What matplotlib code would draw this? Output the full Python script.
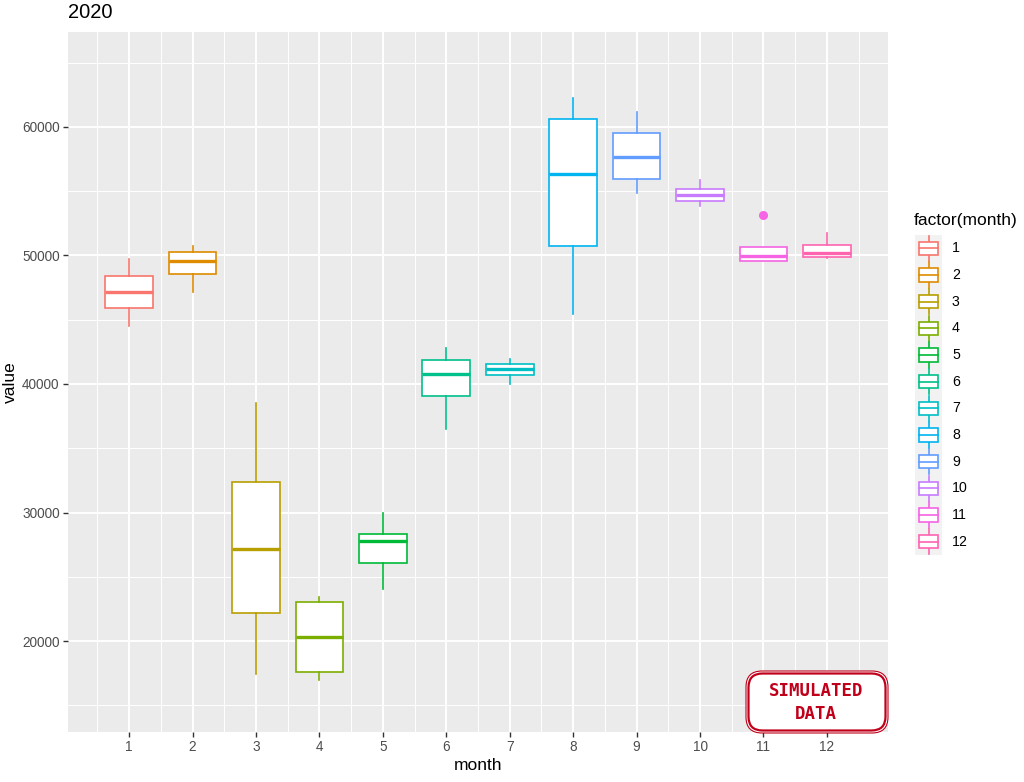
import matplotlib
matplotlib.use("Agg")
import matplotlib.pyplot as plt
from matplotlib.patches import Rectangle, FancyBboxPatch
from matplotlib.lines import Line2D

plt.rcParams['font.family'] = ['Liberation Sans', 'DejaVu Sans']

# box statistics
months = [1, 2, 3, 4, 5, 6, 7, 8, 9, 10, 11, 12]
whis_lo = [44500, 47180, 17430, 16960, 24020, 36480, 40000, 45420, 54890, 53880, 49550, 49830]
q1 = [45910, 48560, 22200, 17610, 26090, 39070, 40670, 50760, 55950, 54240, 49550, 49910]
median = [47160, 49570, 27160, 20330, 27780, 40780, 41140, 56340, 57640, 54710, 49990, 50220]
q3 = [48400, 50300, 32370, 23010, 28300, 41870, 41530, 60600, 59560, 55200, 50660, 50790]
whis_hi = [49730, 50760, 38550, 23450, 29940, 42780, 41920, 62230, 61140, 55880, 50660, 51730]
outliers = [[], [], [], [], [], [], [], [], [], [], [53130], []]

colors = ['#F8766D', '#DE8C00', '#B79F00', '#7CAE00', '#00BA38', '#00C08B',
          '#00BFC4', '#00B4F0', '#619CFF', '#C77CFF', '#F564E3', '#FF64B0']

W, H = 1024, 782
fig = plt.figure(figsize=(W / 100, H / 100), dpi=100)
fig.patch.set_facecolor('white')

ax = fig.add_axes([68 / W, 1 - 732 / H, 820 / W, 700 / H])
ax.set_facecolor('#EBEBEB')
for s in ax.spines.values():
    s.set_visible(False)

stats = []
for i in range(len(months)):
    stats.append(dict(med=median[i], q1=q1[i], q3=q3[i],
                      whislo=whis_lo[i], whishi=whis_hi[i], fliers=outliers[i]))

for i, st in enumerate(stats):
    c = colors[i]
    ax.bxp([st], positions=[months[i]], widths=0.75, patch_artist=True,
           showcaps=False, manage_ticks=False,
           boxprops=dict(facecolor='white', edgecolor=c, linewidth=1.2),
           medianprops=dict(color=c, linewidth=2.4, solid_capstyle='butt'),
           whiskerprops=dict(color=c, linewidth=1.2),
           flierprops=dict(marker='o', markerfacecolor=c, markeredgecolor=c,
                           markersize=5.5),
           zorder=3)

ax.set_xlim(0.0375, 12.9625)
ax.set_ylim(12920, 67390)
ax.set_xticks(months)
ax.set_xticklabels([str(m) for m in months])
ax.set_xticks([m + 0.5 for m in range(0, 13)], minor=True)
ax.set_yticks([20000, 30000, 40000, 50000, 60000])
ax.set_yticks([15000, 25000, 35000, 45000, 55000, 65000], minor=True)
ax.grid(which='major', color='white', linewidth=1.4, zorder=0)
ax.grid(which='minor', color='white', linewidth=0.7, zorder=0)
ax.set_axisbelow(True)
ax.tick_params(which='major', length=3.5, width=1, color='#333333',
               labelsize=9.8, labelcolor='#4D4D4D', pad=2.5)
ax.tick_params(which='minor', length=0)
ax.set_xlabel('month', fontsize=12.5, labelpad=3)
ax.set_ylabel('value', fontsize=12.5, labelpad=3)

fig.text(68 / W, 1 - 12 / H, '2020', fontsize=14.5, va='center', ha='left')

# legend
fig.text(914 / W, 1 - 221 / H, 'factor(month)', fontsize=12.5, va='center', ha='left')
lax = fig.add_axes([915 / W, 1 - 555 / H, 27 / W, 320 / H])
lax.set_xlim(0, 1)
lax.set_ylim(12, 0)
lax.axis('off')
lax.add_patch(Rectangle((0, 0), 1, 12, facecolor='#F2F2F2', edgecolor='none'))
for i in range(len(months)):
    c = colors[i]
    lax.add_line(Line2D([0.5, 0.5], [i + 0.02, i + 0.98], color=c, linewidth=1.2))
    lax.add_patch(Rectangle((0.13, i + 0.25), 0.74, 0.5, facecolor='white',
                            edgecolor=c, linewidth=1.2, zorder=3))
    lax.add_line(Line2D([0.13, 0.87], [i + 0.5, i + 0.5], color=c,
                        linewidth=1.2, zorder=4))
    fig.text(952 / W, 1 - (235 + 26.67 * (i + 0.5)) / H, str(months[i]),
             fontsize=10.2, va='center', ha='left')

# stamp
red = '#C0001A'
outer = FancyBboxPatch((746, 782 - 733), 142, 62,
                       boxstyle='round,pad=0,rounding_size=16',
                       facecolor='white', edgecolor=red, linewidth=0.8,
                       transform=None, zorder=10)
inner = FancyBboxPatch((748.5, 782 - 730.5), 137, 57,
                       boxstyle='round,pad=0,rounding_size=14',
                       facecolor='none', edgecolor=red, linewidth=1.6,
                       transform=None, zorder=11)
fig.add_artist(outer)
fig.add_artist(inner)
fig.text(816 / W, 1 - 691 / H, 'SIMULATED', fontsize=12.5, fontweight='bold',
         family='DejaVu Sans Mono', color=red, ha='center', va='center', zorder=12)
fig.text(816 / W, 1 - 714 / H, 'DATA', fontsize=12.5, fontweight='bold',
         family='DejaVu Sans Mono', color=red, ha='center', va='center', zorder=12)

fig.savefig('out.png', dpi=100)
